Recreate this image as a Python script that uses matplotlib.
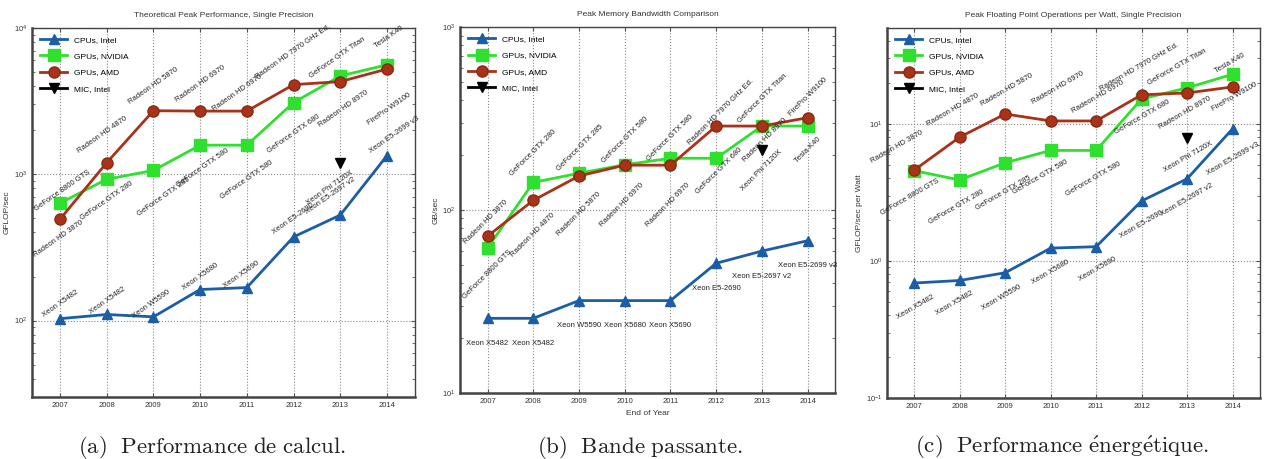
import matplotlib
matplotlib.use("Agg")
import matplotlib.pyplot as plt
from matplotlib.ticker import LogLocator, NullFormatter
import numpy as np

plt.rcParams['font.family'] = ['Liberation Sans Narrow', 'Liberation Sans', 'DejaVu Sans']

years = [2007, 2008, 2009, 2010, 2011, 2012, 2013, 2014]
mic_year = [2013]

# (a) GFLOP/sec, single precision
perf_cpu = [103, 110, 106, 163, 168, 373, 526, 1340]
perf_nvidia = [635, 925, 1062, 1581, 1581, 3090, 4700, 5600]
perf_amd = [493, 1200, 2720, 2703, 2703, 4100, 4300, 5240]
perf_mic = [1200]

# (b) GB/sec
bw_cpu = [25.6, 25.6, 32, 32, 32, 51.2, 59.7, 68]
bw_nvidia = [62, 141.7, 159, 177, 192, 192, 288, 288]
bw_amd = [72, 113, 153.6, 176, 176, 288, 288, 320]
bw_mic = [213]

# (c) GFLOP/sec per Watt
eff_cpu = [0.69, 0.72, 0.82, 1.24, 1.27, 2.74, 3.97, 9.2]
eff_nvidia = [4.55, 3.9, 5.2, 6.4, 6.4, 15.2, 18.3, 23]
eff_amd = [4.6, 8.0, 11.8, 10.5, 10.5, 16.3, 16.8, 18.6]
eff_mic = [7.9]

cpu_names = ["Xeon X5482", "Xeon X5482", "Xeon W5590", "Xeon X5680", "Xeon X5690",
             "Xeon E5-2690", "Xeon E5-2697 v2", "Xeon E5-2699 v3"]
nvidia_names = ["GeForce 8800 GTS", "GeForce GTX 280", "GeForce GTX 285", "GeForce GTX 580",
                "GeForce GTX 580", "GeForce GTX 680", "GeForce GTX Titan", "Tesla K40"]
amd_names = ["Radeon HD 3870", "Radeon HD 4870", "Radeon HD 5870", "Radeon HD 6970",
             "Radeon HD 6970", "Radeon HD 7970 GHz Ed.", "Radeon HD 8970", "FirePro W9100"]
mic_names = ["Xeon Phi 7120X"]

titles = ["Theoretical Peak Performance, Single Precision",
          "Peak Memory Bandwidth Comparison",
          "Peak Floating Point Operations per Watt, Single Precision"]
ylabels = ["GFLOP/sec", "GB/sec", "GFLOP/sec per Watt"]
# captions in Computer Modern through mathtext (keeps the accents right)
captions = [r"$\mathrm{(a)\ \ Performance\ de\ calcul.}$",
            r"$\mathrm{(b)\ \ Bande\ passante.}$",
            r"$\mathrm{(c)\ \ Performance\ \acute{e}nerg\acute{e}tique.}$"]

c_cpu = "#1b5ea6"
c_nv = "#2fe02f"
c_amd = "#a8321a"

# label offsets in pixels (dx, dy with dy down) and rotation, per panel
off_a = {
    "cpu": ([(0, -15), (1, -14), (-2, -13), (0, -13), (-5, -13), (0, -18), (-10, -19), (7, -21)], 35),
    "nv": ([(2, -12), (0, 22), (10, 26), (3, 23), (0, 35), (0, 31), (-3, -18), (2, -28)], 35),
    "amd": ([(-2, 20), (-4, -28), (0, -25), (0, -27), (-10, -18), (0, -33), (3, 27), (2, 40)], 35),
    "mic": ([(-10, 25)], 35),
}
off_b = {
    "cpu": ([(0, 25)] * 8, 0),
    "nv": ([(0, 26), (0, -30), (1, -25), (0, -25), (0, -20), (3, 13), (1, -28), (0, 24)], 45),
    "amd": ([(-2, -14), (0, 35), (0, 38), (-3, 40), (-3, 40), (5, -14), (3, 14), (0, -21)], 45),
    "mic": ([(0, 20)], 45),
}
off_c = {
    "cpu": ([(1, 24), (-5, 23), (-4, 25), (0, 24), (1, 23), (0, 24), (0, 21), (0, 30)], 30),
    "nv": ([(-4, 26), (-3, 27), (-2, 30), (-10, 27), (-3, 29), (1, 18), (-10, -21), (-3, -11)], 30),
    "amd": ([(-17, -23), (-7, -27), (2, -24), (7, -33), (2, -24), (-2, -28), (-2, 20), (2, 10)], 30),
    "mic": ([(1, 19)], 30),
}

panels = [
    (perf_cpu, perf_nvidia, perf_amd, perf_mic, (30, 1e4), off_a),
    (bw_cpu, bw_nvidia, bw_amd, bw_mic, (10, 1e3), off_b),
    (eff_cpu, eff_nvidia, eff_amd, eff_mic, (0.1, 50), off_c),
]
rects = [[0.0253, 0.135, 0.303, 0.804],
         [0.364, 0.1438, 0.2967, 0.797],
         [0.7017, 0.1329, 0.295, 0.806]]
cap_x = [212 / 1264, 640 / 1264, 1062 / 1264]

fig = plt.figure(figsize=(12.64, 4.59), dpi=100)

for i, (cpu, nv, amd, mic, ylim, offs) in enumerate(panels):
    ax = fig.add_axes(rects[i])
    ax.set_yscale("log")
    ax.plot(years, cpu, color=c_cpu, lw=2, marker="^", ms=7, label="CPUs, Intel", zorder=3)
    ax.plot(years, nv, color=c_nv, lw=2, marker="s", ms=8, label="GPUs, NVIDIA", zorder=3)
    ax.plot(years, amd, color=c_amd, lw=2, marker="o", ms=8, mec="#8a2a12", label="GPUs, AMD", zorder=3)
    ax.plot(mic_year, mic, color="black", lw=2, marker="v", ms=7, ls="none", label="MIC, Intel", zorder=3)
    # legend handle shows a line for MIC too
    h, l = ax.get_legend_handles_labels()
    h[3] = plt.Line2D([], [], color="black", lw=2, marker="v", ms=7)
    ax.legend(h, l, loc="upper left", fontsize=6, frameon=False, handlelength=3.2,
              labelspacing=1.0, borderaxespad=0.6)

    for series, names, key in [(cpu, cpu_names, "cpu"), (nv, nvidia_names, "nv"),
                               (amd, amd_names, "amd")]:
        o, rot = offs[key]
        for x, y, name, (dx, dy) in zip(years, series, names, o):
            ax.annotate(name, (x, y), xytext=(dx, -dy), textcoords="offset pixels",
                        ha="center", va="center", rotation=rot, fontsize=5.5,
                        color="#222222", rotation_mode="anchor")
    o, rot = offs["mic"]
    for x, y, name, (dx, dy) in zip(mic_year, mic, mic_names, o):
        ax.annotate(name, (x, y), xytext=(dx, -dy), textcoords="offset pixels",
                    ha="center", va="center", rotation=rot, fontsize=5.5,
                    color="#222222", rotation_mode="anchor")

    ax.set_xlim(2006.4, 2014.6)
    ax.set_ylim(*ylim)
    ax.set_xticks(years)
    ax.set_xticklabels([str(y) for y in years], fontsize=5.5, color="#333333")
    ax.yaxis.set_major_locator(LogLocator(base=10))
    ax.yaxis.set_minor_locator(LogLocator(base=10, subs=np.arange(2, 10)))
    ax.yaxis.set_minor_formatter(NullFormatter())
    ax.tick_params(axis="y", labelsize=5.5, labelcolor="#333333")
    ax.tick_params(which="both", direction="in", top=True, right=True, color="#555555")
    ax.tick_params(which="major", length=3)
    ax.tick_params(which="minor", length=2)
    ax.grid(True, which="major", ls=":", color="#888888", lw=0.8)
    for s in ax.spines.values():
        s.set_color("#444444")
        s.set_linewidth(1.0)
    ax.spines["left"].set_linewidth(1.8)
    ax.spines["bottom"].set_linewidth(1.8)
    ax.set_title(titles[i], fontsize=6, color="#333333", pad=8)
    ax.set_ylabel(ylabels[i], fontsize=6, color="#333333", labelpad=2)
    if i == 1:
        ax.set_xlabel("End of Year", fontsize=6, color="#333333", labelpad=4)

    fig.text(cap_x[i], 0.026, captions[i], ha="center", va="center", fontsize=16.5,
             math_fontfamily="cm", color="#222222")

fig.savefig("out.png", dpi=100)
